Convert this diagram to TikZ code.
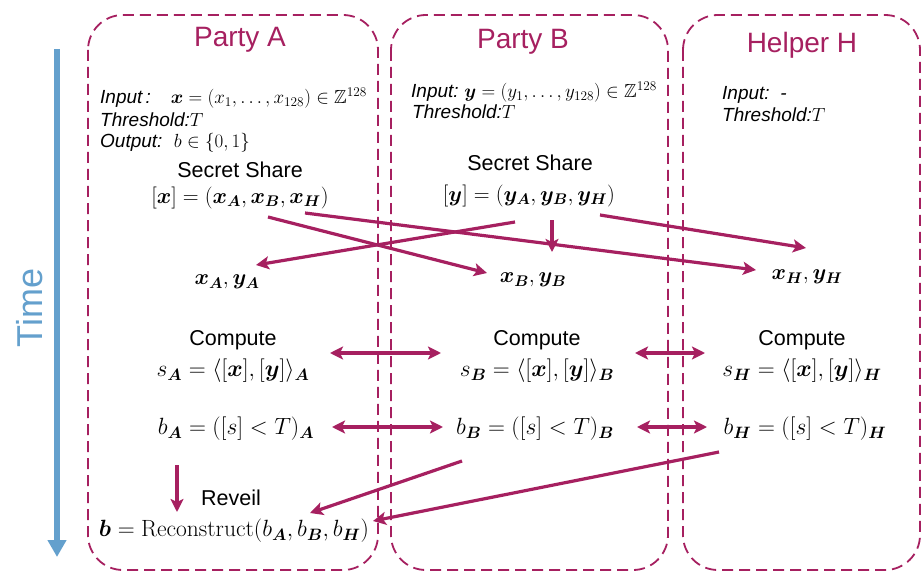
\RequirePackage{fix-cm}
\documentclass[tikz,border=0pt]{standalone}
\usepackage{amsmath,amssymb}
\usepackage{bm}
\usepackage[no-math]{fontspec}
\newfontfamily\sansf{Liberation Sans}
\usetikzlibrary{arrows.meta}
\definecolor{mag}{RGB}{166,32,96}
\definecolor{tblue}{RGB}{100,160,205}
\tikzset{
 party/.style={draw=mag, line width=1.8pt, dash pattern=on 11pt off 6pt, rounded corners=35pt},
 ptitle/.style={text=mag, font=\sansf\fontsize{28}{32}\selectfont, inner sep=0pt},
 lbl/.style={font=\sansf\fontsize{21.5}{25}\selectfont, inner sep=0pt},
 info/.style={font=\fontsize{19}{22}\selectfont, anchor=west, inner sep=0pt},
 mth/.style={font=\fontsize{22}{26}\selectfont, inner sep=0pt},
 mthb/.style={font=\fontsize{23.5}{28}\selectfont, inner sep=0pt},
 tip/.tip={Stealth[length=13pt,width=13pt,inset=3pt]},
 flow/.style={draw=mag, line width=3.2pt, -tip},
 both/.style={draw=mag, line width=3.2pt, tip-tip},
}
\begin{document}
\begin{tikzpicture}[x=1pt,y=-1pt]
\useasboundingbox (0,0) rectangle (923,572);
% boxes
\draw[party] (88,15) rectangle (378,570);
\draw[party] (391,15) rectangle (668,570);
\draw[party] (683,15) rectangle (920,570);
% time
\coordinate (t0) at (57,49); \coordinate (t1) at (57,557);
\draw[tblue, line width=5.5pt, -{Triangle[length=17pt,width=18pt]}] (t0) -- (t1);
\node[rotate=90, text=tblue, font=\sansf\fontsize{36}{40}\selectfont, inner sep=0pt] (time) at (30,308) {Time};
% titles
\node[ptitle] (tA) at (240,40) {Party A};
\node[ptitle] (tB) at (523,42) {Party B};
\node[ptitle] (tH) at (802,45) {Helper H};
% Party A info
\node[info] (inA) at (100,98) {{\sansf\itshape Input\,:}\hspace{20pt}$\bm{x}=(x_1,\dots,x_{128})\in\mathbb{Z}^{128}$};
\node[info] (thA) at (100,120) {{\sansf\itshape Threshold:}$T$};
\node[info] (outA) at (100,143) {{\sansf\itshape Output:}\ \ $b\in\{0,1\}$};
\node[lbl] (ssA) at (240,170) {Secret Share};
\node[mth] (xsh) at (240,198) {$[\bm x]=(\bm{x_A},\bm{x_B},\bm{x_H})$};
% Party B info
\node[info] (inB) at (411,92) {{\sansf\itshape Input:}\ $\bm{y}=(y_1,\dots,y_{128})\in\mathbb{Z}^{128}$};
\node[info] (thB) at (412,112) {{\sansf\itshape Threshold:}$T$};
\node[lbl] (ssB) at (530,163) {Secret Share};
\node[mth] (ysh) at (529,196) {$[\bm y]=(\bm{y_A},\bm{y_B},\bm{y_H})$};
% Helper info
\node[info] (inH) at (722,95) {{\sansf\itshape Input:\ \ -}};
\node[info] (thH) at (722,115) {{\sansf\itshape Threshold:}$T$};
% shares
\node[mth] (shA) at (227,282) {$\bm{x_A},\bm{y_A}$};
\node[mth] (shB) at (533,280) {$\bm{x_B},\bm{y_B}$};
\node[mth] (shH) at (807,277) {$\bm{x_H},\bm{y_H}$};
% compute
\node[lbl] (cA) at (233,340) {Compute};
\node[mthb] (sA) at (233,371) {$s_{\bm A}=\langle[\bm x],[\bm y]\rangle_{\bm A}$};
\node[lbl] (cB) at (537,340) {Compute};
\node[mthb] (sB) at (537,371) {$s_{\bm B}=\langle[\bm x],[\bm y]\rangle_{\bm B}$};
\node[lbl] (cH) at (802,340) {Compute};
\node[mthb] (sH) at (802,371) {$s_{\bm H}=\langle[\bm x],[\bm y]\rangle_{\bm H}$};
% compare
\node[mthb] (bA) at (236,429) {$b_{\bm A}=([s]<T)_{\bm A}$};
\node[mthb] (bB) at (535,429) {$b_{\bm B}=([s]<T)_{\bm B}$};
\node[mthb] (bH) at (805,429) {$b_{\bm H}=([s]<T)_{\bm H}$};
% reveal
\node[lbl] (rv) at (231,498) {Reveil};
\node[mthb] (rec) at (234,531) {$\bm b=\mathrm{Reconstruct}(b_{\bm A},b_{\bm B},b_{\bm H})$};
% connector end points
\coordinate (x1) at (268,217); \coordinate (x1e) at (487,273);
\coordinate (x2) at (305,213); \coordinate (x2e) at (756,270);
\coordinate (y1) at (515,222); \coordinate (y1e) at (256,265);
\coordinate (y2) at (552,220); \coordinate (y2e) at (552,252);
\coordinate (y3) at (600,215); \coordinate (y3e) at (806,248);
\coordinate (cab1) at (330,353); \coordinate (cab2) at (441,353);
\coordinate (cbh1) at (635,353); \coordinate (cbh2) at (705,353);
\coordinate (bab1) at (332,427); \coordinate (bab2) at (443,427);
\coordinate (bbh1) at (637,427); \coordinate (bbh2) at (707,427);
\coordinate (r1) at (177,465); \coordinate (r1e) at (177,512);
\coordinate (r2) at (462,461); \coordinate (r2e) at (310,513);
\coordinate (r3) at (719,452); \coordinate (r3e) at (373,521);
\draw[flow] (x1) -- (x1e);
\draw[flow] (x2) -- (x2e);
\draw[flow] (y1) -- (y1e);
\draw[flow] (y2) -- (y2e);
\draw[flow] (y3) -- (y3e);
\draw[both] (cab1) -- (cab2);
\draw[both] (cbh1) -- (cbh2);
\draw[both] (bab1) -- (bab2);
\draw[both] (bbh1) -- (bbh2);
\draw[flow] (r1) -- (r1e);
\draw[flow] (r2) -- (r2e);
\draw[flow] (r3) -- (r3e);
\end{tikzpicture}
\end{document}
